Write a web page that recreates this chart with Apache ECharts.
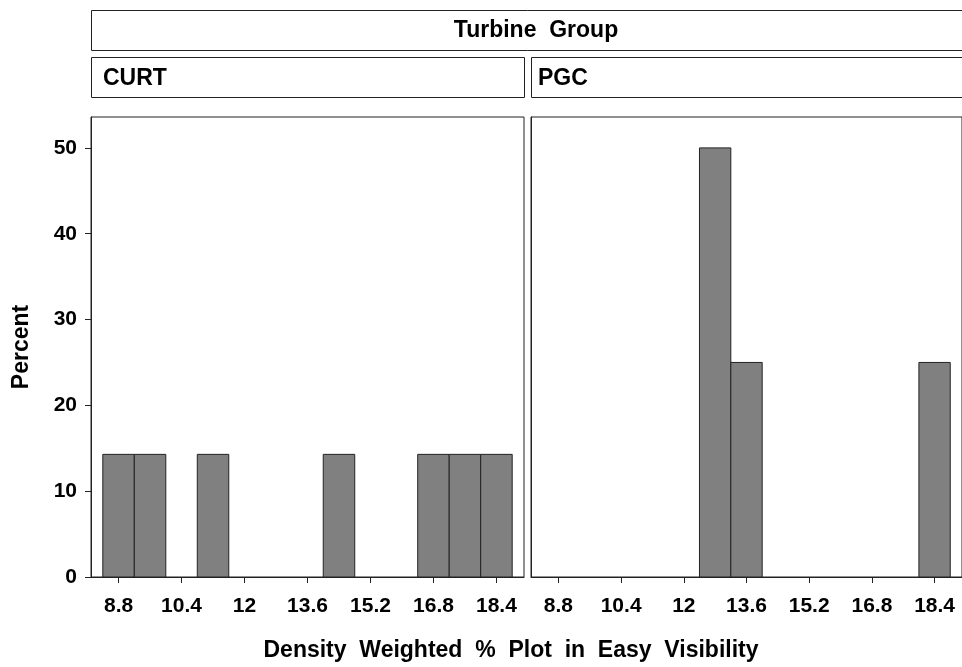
<!DOCTYPE html>
<html>
<head>
<meta charset="utf-8" />
<title>Turbine Group</title>
<style type="text/css">
html,body{margin:0px;padding:0px;background:#fff}
#chart{width:962px;height:667px}
</style>
<script src="https://cdn.jsdelivr.net/npm/echarts@6/dist/echarts.min.js"></script>
</head>
<body>
<div id="chart"></div>
<script type="text/javascript">
// bin midpoints (width 0.8) and percent per panel
var curtBins = [8.8, 9.6, 11.2, 14.4, 16.8, 17.6, 18.4];
var curtPct = [14.29, 14.29, 14.29, 14.29, 14.29, 14.29, 14.29];
var pgcBins = [12.8, 13.6, 18.4];
var pgcPct = [50, 25, 25];
var binWidth = 0.8;

var xTicks = [8.8, 10.4, 12, 13.6, 15.2, 16.8, 18.4];
var yTicks = [0, 10, 20, 30, 40, 50];
var panels = ['CURT', 'PGC'];

var font = '"Liberation Sans", Arial, Helvetica, sans-serif';
var lineCol = '#222';

function pairs(xs, ys){
	var out = [];
	for(var i = 0; i < xs.length; i++){
		out.push([xs[i], ys[i]]);
	}
	return out;
}

// draw one histogram bar from bin start to bin end
function renderBar(params, api){
	var c = api.value(0), v = api.value(1);
	var p0 = api.coord([c - binWidth / 2, v]);
	var p1 = api.coord([c + binWidth / 2, 0]);
	return {
		type: 'rect',
		shape: {x: p0[0], y: p0[1], width: p1[0] - p0[0], height: p1[1] - p0[1]},
		style: {fill: '#808080', stroke: lineCol, lineWidth: 1}
	};
}

function xAxisFor(idx){
	return {
		type: 'value',
		gridIndex: idx,
		min: 8.1,
		max: 19.1,
		splitLine: {show: false},
		axisLine: {show: true, lineStyle: {color: lineCol}},
		axisTick: {show: true, length: 6, customValues: xTicks, lineStyle: {color: lineCol}},
		axisLabel: {
			customValues: xTicks,
			margin: 19,
			fontFamily: font,
			fontWeight: 'bold',
			fontSize: 21,
			color: '#000'
		}
	};
}

function yAxisFor(idx){
	var ax = {
		type: 'value',
		gridIndex: idx,
		min: 0,
		max: 53.6,
		splitLine: {show: false},
		axisLine: {show: true, lineStyle: {color: lineCol}},
		axisTick: {show: idx == 0, length: 6, customValues: yTicks, lineStyle: {color: lineCol}},
		axisLabel: {
			show: idx == 0,
			customValues: yTicks,
			margin: 14,
			fontFamily: font,
			fontWeight: 'bold',
			fontSize: 21,
			color: '#000'
		}
	};
	if(idx == 0){
		ax.name = 'Percent';
		ax.nameLocation = 'middle';
		ax.nameRotate = 90;
		ax.nameGap = 58;
		ax.nameTextStyle = {fontFamily: font, fontWeight: 'bold', fontSize: 23, color: '#000'};
	}
	return ax;
}

var stripStyle = {fill: '#fff', stroke: lineCol, lineWidth: 1};
var textStyle = {fontFamily: font, fontWeight: 'bold', fontSize: 23, fill: '#000'};

var option = {
	animation: false,
	backgroundColor: '#fff',
	grid: [
		{left: 91, top: 117, width: 433, height: 460, show: true, borderColor: lineCol, borderWidth: 1},
		{left: 531, top: 117, width: 433, height: 460, show: true, borderColor: lineCol, borderWidth: 1}
	],
	xAxis: [xAxisFor(0), xAxisFor(1)],
	yAxis: [yAxisFor(0), yAxisFor(1)],
	graphic: [
		{type: 'rect', shape: {x: 91.5, y: 10.5, width: 880, height: 40}, style: stripStyle},
		{type: 'text', x: 536, y: 31, style: Object.assign({text: 'Turbine  Group', align: 'center', verticalAlign: 'middle'}, textStyle)},
		{type: 'rect', shape: {x: 91.5, y: 57.5, width: 433, height: 40}, style: stripStyle},
		{type: 'text', x: 103, y: 79, style: Object.assign({text: panels[0], verticalAlign: 'middle'}, textStyle)},
		{type: 'rect', shape: {x: 531.5, y: 57.5, width: 440, height: 40}, style: stripStyle},
		{type: 'text', x: 538, y: 79, style: Object.assign({text: panels[1], verticalAlign: 'middle'}, textStyle)},
		{type: 'text', x: 511, y: 651, style: Object.assign({text: 'Density  Weighted  %  Plot  in  Easy  Visibility', align: 'center', verticalAlign: 'middle'}, textStyle)}
	],
	series: [
		{type: 'custom', xAxisIndex: 0, yAxisIndex: 0, renderItem: renderBar, data: pairs(curtBins, curtPct)},
		{type: 'custom', xAxisIndex: 1, yAxisIndex: 1, renderItem: renderBar, data: pairs(pgcBins, pgcPct)}
	]
};

echarts.init(document.getElementById('chart')).setOption(option);
</script>
</body>
</html>
